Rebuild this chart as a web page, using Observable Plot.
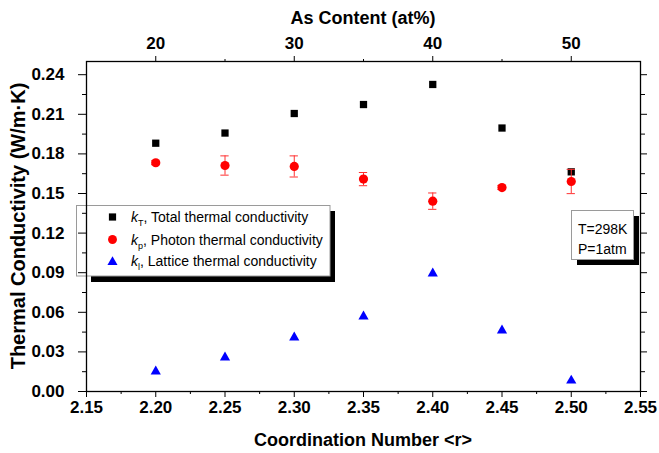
<!DOCTYPE html>
<html><head><meta charset="utf-8">
<script src="https://cdn.jsdelivr.net/npm/d3@7"></script>
<script src="https://cdn.jsdelivr.net/npm/@observablehq/plot@0.6"></script>
<style>body{margin:0;background:#fff} #chart svg{display:block}</style>
</head><body><div id="chart"></div>
<script>
// ---- data ----
const coordination = [2.20, 2.25, 2.30, 2.35, 2.40, 2.45, 2.50];
const totalK   = [0.1881, 0.1958, 0.2106, 0.2174, 0.2326, 0.1996, 0.1664];
const photonK  = [0.1733, 0.1712, 0.1705, 0.1609, 0.1442, 0.1545, 0.1591];
const photonErr= [0.0015, 0.0073, 0.0080, 0.0050, 0.0062, 0.0015, 0.0092];
const latticeK = [0.0152, 0.0258, 0.0409, 0.0568, 0.0894, 0.0462, 0.0083];

const xTicksMajor = [2.15, 2.20, 2.25, 2.30, 2.35, 2.40, 2.45, 2.50, 2.55];
const xTicksMinor = [2.175, 2.225, 2.275, 2.325, 2.375, 2.425, 2.475, 2.525];
const yTicksMajor = [0, 0.03, 0.06, 0.09, 0.12, 0.15, 0.18, 0.21, 0.24];
const yTicksMinor = [0.015, 0.045, 0.075, 0.105, 0.135, 0.165, 0.195, 0.225];
const asContentMajor = [20, 30, 40, 50];
const asContentMinor = [25, 35, 45];

const seriesSymbols = ["k", "k", "k"];
const seriesSubs = ["T", "p", "l"];
const seriesNames = [", Total thermal conductivity", ", Photon thermal conductivity", ", Lattice thermal conductivity"];
const seriesColors = ["#000000", "#ff0000", "#0000ff"];
const conditions = ["T=298K", "P=1atm"];
const xTitle = "Coordination Number <r>";
const yTitle = "Thermal Conductivity (W/m\u00b7K)";
const topTitle = "As Content (at%)";

const asToR = a => 2 + a / 100;
const rToAs = r => Math.round((r - 2) * 100);

const totalRows = coordination.map((x, i) => ({x, y: totalK[i]}));
const photonRows = coordination.map((x, i) => ({x, y: photonK[i], e: photonErr[i]}));
const latticeRows = coordination.map((x, i) => ({x, y: latticeK[i]}));

const FONT = "'Liberation Sans', Arial, sans-serif";

function legendMark() {
  const g = d3.create("svg:g").attr("font-family", FONT).attr("text-anchor", "start");
  g.append("rect").attr("x", 91).attr("y", 211).attr("width", 244).attr("height", 71).attr("fill", "#000");
  g.append("rect").attr("x", 76.5).attr("y", 205.5).attr("width", 253.5).attr("height", 70.5)
    .attr("fill", "#fff").attr("stroke", "#9a9a9a").attr("stroke-width", 1);
  const rowsY = [217, 239.5, 261];
  const symbols = [d3.symbolSquare, d3.symbolCircle, d3.symbolTriangle];
  const sizes = [52, 62, 44];
  rowsY.forEach((y, i) => {
    g.append("path").attr("transform", `translate(112.5,${y + (i === 2 ? 1 : 0)})`)
      .attr("d", d3.symbol(symbols[i], sizes[i])()).attr("fill", seriesColors[i]);
    const t = g.append("text").attr("x", 131).attr("y", y + 5).attr("font-size", 14)
      .attr("font-weight", "normal").attr("fill", "#000").attr("text-anchor", "start");
    t.append("tspan").attr("font-style", "italic").text(seriesSymbols[i]);
    t.append("tspan").attr("font-size", 9).attr("dy", 4).text(seriesSubs[i]);
    t.append("tspan").attr("dy", -4).text(seriesNames[i]);
  });
  return g.node();
}

function conditionsMark() {
  const g = d3.create("svg:g").attr("font-family", FONT).attr("text-anchor", "start");
  g.append("rect").attr("x", 577).attr("y", 216).attr("width", 62).attr("height", 49).attr("fill", "#000");
  g.append("rect").attr("x", 571.5).attr("y", 210.5).attr("width", 62).attr("height", 49)
    .attr("fill", "#fff").attr("stroke", "#9a9a9a");
  conditions.forEach((c, i) => {
    g.append("text").attr("x", 578).attr("y", 234 + i * 20).attr("font-size", 14)
      .attr("font-weight", "normal").attr("text-anchor", "start").text(c);
  });
  return g.node();
}

function titlesMark(index, scales, values, dims) {
  const g = d3.create("svg:g").attr("font-family", FONT).attr("font-weight", "bold").attr("fill", "#000");
  const cx = (dims.marginLeft + dims.width - dims.marginRight) / 2;
  const cy = (dims.marginTop + dims.height - dims.marginBottom) / 2;
  g.append("text").attr("x", cx).attr("y", 446).attr("text-anchor", "middle").attr("font-size", 18).text(xTitle);
  g.append("text").attr("x", cx).attr("y", 24).attr("text-anchor", "middle").attr("font-size", 18).text(topTitle);
  g.append("text").attr("transform", `translate(25,${cy}) rotate(-90)`).attr("text-anchor", "middle")
    .attr("font-size", 20).text(yTitle);
  return g.node();
}

const tickText = {fontSize: 17, fontWeight: "bold"};

const chart = Plot.plot({
  width: 659, height: 453,
  marginLeft: 86, marginRight: 19, marginTop: 61, marginBottom: 62,
  style: {fontFamily: FONT, fontSize: "17px", color: "#000", background: "#fff"},
  x: {domain: [2.15, 2.55], axis: null},
  y: {domain: [0, 0.25], axis: null},
  marks: [
    Plot.dot(totalRows, {x: "x", y: "y", symbol: "square", r: 4.1, fill: "#000"}),
    Plot.ruleX(photonRows, {x: "x", y1: d => d.y - d.e, y2: d => d.y + d.e, stroke: "#ff3030", strokeWidth: 1}),
    Plot.ruleY(photonRows, {y: d => d.y - d.e, x1: d => d.x - 0.003, x2: d => d.x + 0.003, stroke: "#ff3030", strokeWidth: 1}),
    Plot.ruleY(photonRows, {y: d => d.y + d.e, x1: d => d.x - 0.003, x2: d => d.x + 0.003, stroke: "#ff3030", strokeWidth: 1}),
    Plot.dot(photonRows, {x: "x", y: "y", symbol: "circle", r: 4.6, fill: "#ff0000"}),
    Plot.dot(latticeRows, {x: "x", y: "y", symbol: "triangle", r: 3.8, fill: "#0000ff"}),
    legendMark,
    Plot.frame({stroke: "#000", strokeWidth: 1.3}),
    Plot.axisX(xTicksMajor, {anchor: "bottom", tickSize: 6, tickPadding: 3, tickFormat: d3.format(".2f"), label: null, ...tickText}),
    Plot.axisX(xTicksMinor, {anchor: "bottom", tickSize: 3, tickFormat: () => "", label: null}),
    Plot.axisX(asContentMajor.map(asToR), {anchor: "top", tickSize: 6, tickPadding: 7, tickFormat: rToAs, label: null, ...tickText}),
    Plot.axisX(asContentMinor.map(asToR), {anchor: "top", tickSize: 3, tickFormat: () => "", label: null}),
    Plot.axisY(yTicksMajor, {anchor: "left", tickSize: 8, tickPadding: 14, tickFormat: d3.format(".2f"), label: null, ...tickText}),
    Plot.axisY(yTicksMinor, {anchor: "left", tickSize: 4, tickFormat: () => "", label: null}),
    Plot.axisY(yTicksMajor, {anchor: "right", tickSize: 6, tickFormat: () => "", label: null}),
    Plot.axisY(yTicksMinor, {anchor: "right", tickSize: 4, tickFormat: () => "", label: null}),
    conditionsMark,
    titlesMark
  ]
});
document.getElementById("chart").appendChild(chart);
</script>
</body></html>
